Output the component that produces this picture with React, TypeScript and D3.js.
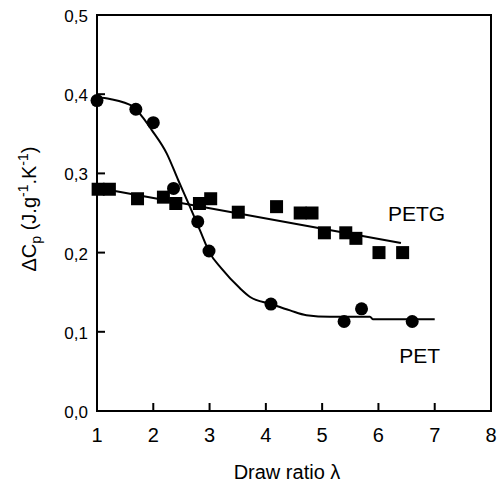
import React, { useRef, useEffect } from 'react';
import * as d3 from 'd3';

// PET measured points [draw ratio, dCp]
const petPoints: [number, number][] = [
  [1.0, 0.392], [1.69, 0.381], [2.0, 0.364], [2.36, 0.281], [2.79, 0.239],
  [2.99, 0.202], [4.09, 0.135], [5.39, 0.113], [5.7, 0.129], [6.6, 0.113],
];
// PET fitted curve
const petCurve: [number, number][] = [
  [1.0, 0.396], [1.23, 0.394], [1.65, 0.384], [1.82, 0.37], [1.97, 0.355],
  [2.24, 0.325], [2.44, 0.292], [2.65, 0.258], [2.83, 0.228], [3.0, 0.2],
  [3.21, 0.18], [3.54, 0.155], [3.72, 0.144], [4.09, 0.135], [4.43, 0.127],
  [4.72, 0.121], [5.14, 0.119], [5.85, 0.119], [5.9, 0.116], [7.0, 0.116],
];
// PETG measured points
const petgPoints: [number, number][] = [
  [1.02, 0.28], [1.22, 0.28], [1.72, 0.268], [2.18, 0.27], [2.4, 0.262],
  [2.82, 0.262], [3.02, 0.268], [3.51, 0.251], [4.19, 0.258], [4.61, 0.25],
  [4.82, 0.25], [5.04, 0.225], [5.42, 0.225], [5.6, 0.218], [6.01, 0.2],
  [6.43, 0.2],
];
// PETG fitted line
const petgCurve: [number, number][] = [[1.0, 0.282], [6.4, 0.212]];

const xTickLabels = [1, 2, 3, 4, 5, 6, 7, 8];
const xTickMarks = [2, 3, 4, 5, 6, 7];
const yTickLabels = [0, 0.1, 0.2, 0.3, 0.4, 0.5];
const yTickMarks = [0.1, 0.2, 0.3, 0.4];

const seriesLabels: { text: string; x: number; y: number }[] = [
  { text: 'PETG', x: 6.17, y: 0.24 },
  { text: 'PET', x: 6.37, y: 0.06 },
];

const font = '"Liberation Sans", Arial, sans-serif';

const App = () => {
  const ref = useRef<SVGSVGElement>(null);

  useEffect(() => {
    const width = 500;
    const height = 485;
    const left = 97, right = 491, top = 15, bottom = 411;

    const x = d3.scaleLinear().domain([1, 8]).range([left, right]);
    const y = d3.scaleLinear().domain([0, 0.5]).range([bottom, top]);
    const fmt = (v: number) => d3.format('.1f')(v).replace('.', ',');

    const svg = d3.select(ref.current);
    svg.selectAll('*').remove();
    svg.attr('width', width).attr('height', height);

    // frame
    svg.append('rect')
      .attr('x', left).attr('y', top)
      .attr('width', right - left).attr('height', bottom - top)
      .attr('fill', 'none').attr('stroke', '#000').attr('stroke-width', 2);

    // ticks (inward)
    svg.append('g').selectAll('line')
      .data(xTickMarks)
      .join('line')
      .attr('x1', d => x(d)).attr('x2', d => x(d))
      .attr('y1', bottom).attr('y2', bottom - 8)
      .attr('stroke', '#000').attr('stroke-width', 2);

    svg.append('g').selectAll('line')
      .data(yTickMarks)
      .join('line')
      .attr('x1', left).attr('x2', left + 8)
      .attr('y1', d => y(d)).attr('y2', d => y(d))
      .attr('stroke', '#000').attr('stroke-width', 2);

    svg.append('g').selectAll('text')
      .data(xTickLabels)
      .join('text')
      .attr('x', d => x(d))
      .attr('y', 442)
      .attr('text-anchor', 'middle')
      .attr('font-family', font)
      .attr('font-size', 20)
      .text(d => d);

    svg.append('g').selectAll('text')
      .data(yTickLabels)
      .join('text')
      .attr('x', left - 9)
      .attr('y', d => y(d) + 7)
      .attr('text-anchor', 'end')
      .attr('font-family', font)
      .attr('font-size', 17)
      .text(d => fmt(d));

    // axis titles
    svg.append('text')
      .attr('x', 287).attr('y', 479)
      .attr('text-anchor', 'middle')
      .attr('font-family', font)
      .attr('font-size', 20)
      .text('Draw ratio \u03bb');

    const yt = svg.append('text')
      .attr('transform', 'translate(36,209) rotate(-90)')
      .attr('text-anchor', 'middle')
      .attr('font-family', font)
      .attr('font-size', 20);
    yt.append('tspan').text('\u0394C');
    yt.append('tspan').attr('font-size', 14).attr('dy', 5).text('p');
    yt.append('tspan').attr('dy', -5).text(' (J.g');
    yt.append('tspan').attr('font-size', 14).attr('dy', -8).text('-1');
    yt.append('tspan').attr('dy', 8).text('.K');
    yt.append('tspan').attr('font-size', 14).attr('dy', -8).text('-1');
    yt.append('tspan').attr('dy', 8).text(')');

    // fitted lines
    const lineGen = d3.line<[number, number]>()
      .x(d => x(d[0]))
      .y(d => y(d[1]))
      .curve(d3.curveMonotoneX);

    svg.append('path')
      .attr('d', lineGen(petgCurve))
      .attr('fill', 'none').attr('stroke', '#000').attr('stroke-width', 2);
    svg.append('path')
      .attr('d', lineGen(petCurve))
      .attr('fill', 'none').attr('stroke', '#000').attr('stroke-width', 2);

    // markers
    const sq = 13;
    svg.append('g').selectAll('rect')
      .data(petgPoints)
      .join('rect')
      .attr('x', d => x(d[0]) - sq / 2)
      .attr('y', d => y(d[1]) - sq / 2)
      .attr('width', sq).attr('height', sq)
      .attr('fill', '#000');

    svg.append('g').selectAll('circle')
      .data(petPoints)
      .join('circle')
      .attr('cx', d => x(d[0]))
      .attr('cy', d => y(d[1]))
      .attr('r', 6.5)
      .attr('fill', '#000');

    svg.append('g').selectAll('text')
      .data(seriesLabels)
      .join('text')
      .attr('x', d => x(d.x))
      .attr('y', d => y(d.y))
      .attr('font-family', font)
      .attr('font-size', 21)
      .text(d => d.text);
  }, []);

  return (
    <svg
      ref={ref}
      style={{ position: 'absolute', left: 0, top: 0, display: 'block', background: '#fff' }}
    />
  );
};

export default App;
